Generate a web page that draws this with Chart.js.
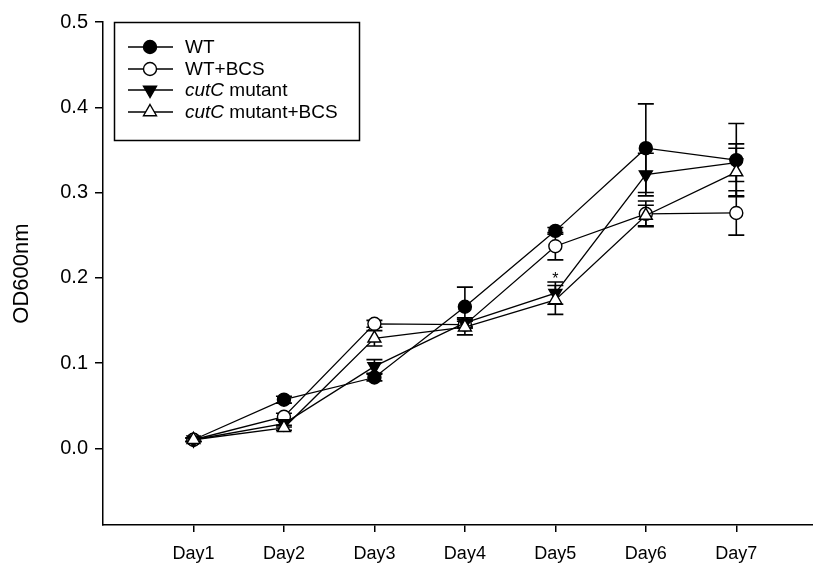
<!DOCTYPE html>
<html>
<head>
<meta charset="utf-8">
<script src="https://cdn.jsdelivr.net/npm/chart.js@4"></script>
<style>
  html, body { margin: 0; padding: 0; background: #fff; overflow: hidden; }
  #wrap { width: 823px; height: 565px; position: relative; }
</style>
</head>
<body>
<div id="wrap"><canvas id="grafico"></canvas></div>
<script>
// dados
const dias = ["Day1", "Day2", "Day3", "Day4", "Day5", "Day6", "Day7"];
const yTicks = [0.0, 0.1, 0.2, 0.3, 0.4, 0.5];

const wt       = [0.010, 0.057, 0.083, 0.166, 0.255, 0.352, 0.338];
const wtErr    = [0.002, 0.004, 0.004, 0.023, 0.004, 0.052, 0.043];
const wtBcs    = [0.010, 0.037, 0.146, 0.145, 0.237, 0.275, 0.276];
const wtBcsErr = [0.002, 0.004, 0.004, 0.004, 0.016, 0.015, 0.026];
const mut      = [0.010, 0.029, 0.096, 0.147, 0.182, 0.321, 0.335];
const mutErr   = [0.002, 0.004, 0.008, 0.006, 0.013, 0.025, 0.022];
const mutBcs   = [0.010, 0.024, 0.129, 0.142, 0.174, 0.273, 0.324];
const mutBcsErr= [0.002, 0.003, 0.009, 0.009, 0.017, 0.012, 0.028];

const asterisco = { dia: 5, valor: 0.198 };

const FONTE = "'Liberation Sans', Arial, sans-serif";

function pontos(valores) {
  return valores.map((v, i) => ({ x: i + 1, y: v }));
}

// ordem: a última série fica por cima (como no SigmaPlot)
function serie(label, valores, erros, estilo, preenchido, rotacao, raio, ordem) {
  return {
    label,
    data: pontos(valores),
    erros,
    order: ordem,
    borderColor: "#000",
    borderWidth: 1.3,
    pointStyle: estilo,
    pointRotation: rotacao,
    pointRadius: raio,
    pointHoverRadius: raio,
    pointBackgroundColor: preenchido ? "#000" : "#fff",
    pointBorderColor: "#000",
    pointBorderWidth: 1.4,
    tension: 0,
    fill: false,
  };
}

// barras de erro (desenhadas antes dos marcadores)
const barrasErro = {
  id: "barrasErro",
  beforeDatasetsDraw(chart) {
    const { ctx, scales: { x, y } } = chart;
    ctx.save();
    ctx.strokeStyle = "#000";
    ctx.lineWidth = 1.6;
    chart.data.datasets.forEach((ds) => {
      ds.data.forEach((p, i) => {
        const e = ds.erros[i];
        const px = x.getPixelForValue(p.x);
        const yTop = y.getPixelForValue(p.y + e);
        const yBot = y.getPixelForValue(p.y - e);
        ctx.beginPath();
        ctx.moveTo(px, yTop); ctx.lineTo(px, yBot);
        ctx.moveTo(px - 8, yTop); ctx.lineTo(px + 8, yTop);
        ctx.moveTo(px - 8, yBot); ctx.lineTo(px + 8, yBot);
        ctx.stroke();
      });
    });
    ctx.restore();
  },
  afterDatasetsDraw(chart) {
    const { ctx, scales: { x, y } } = chart;
    ctx.save();
    ctx.fillStyle = "#000";
    ctx.font = "16px " + FONTE;
    ctx.textAlign = "center";
    ctx.textBaseline = "middle";
    ctx.fillText("*", x.getPixelForValue(asterisco.dia), y.getPixelForValue(asterisco.valor));
    ctx.restore();
  },
};

// legenda desenhada à mão (itálico em cutC)
const legenda = {
  id: "legenda",
  afterDraw(chart) {
    const ctx = chart.ctx;
    ctx.save();
    ctx.strokeStyle = "#000";
    ctx.lineWidth = 1.5;
    ctx.strokeRect(114.5, 22.5, 245, 118);
    const linhas = [
      [{ t: "WT", it: false }],
      [{ t: "WT+BCS", it: false }],
      [{ t: "cutC", it: true }, { t: " mutant", it: false }],
      [{ t: "cutC", it: true }, { t: " mutant+BCS", it: false }],
    ];
    const ys = [47, 69, 90, 112];
    chart.data.datasets.forEach((ds, i) => {
      const yy = ys[i];
      ctx.strokeStyle = "#000";
      ctx.lineWidth = 1.3;
      ctx.beginPath();
      ctx.moveTo(128, yy); ctx.lineTo(173, yy);
      ctx.stroke();
      ctx.fillStyle = ds.pointBackgroundColor;
      ctx.lineWidth = ds.pointBorderWidth;
      Chart.helpers.drawPoint(ctx, {
        pointStyle: ds.pointStyle,
        rotation: ds.pointRotation,
        radius: ds.pointRadius,
        borderWidth: ds.pointBorderWidth,
      }, 150, yy);
      ctx.fillStyle = "#000";
      ctx.textBaseline = "middle";
      let xx = 185;
      linhas[i].forEach((parte) => {
        ctx.font = (parte.it ? "italic " : "") + "19px " + FONTE;
        ctx.fillText(parte.t, xx, yy + 1);
        xx += ctx.measureText(parte.t).width;
      });
    });
    ctx.restore();
  },
};

const ctx = document.getElementById("grafico");
new Chart(ctx, {
  type: "line",
  data: {
    datasets: [
      serie("WT", wt, wtErr, "circle", true, 0, 6.5, 4),
      serie("WT+BCS", wtBcs, wtBcsErr, "circle", false, 0, 6.5, 3),
      serie("cutC mutant", mut, mutErr, "triangle", true, 180, 7.5, 2),
      serie("cutC mutant+BCS", mutBcs, mutBcsErr, "triangle", false, 0, 7.5, 1),
    ],
  },
  options: {
    responsive: true,
    maintainAspectRatio: false,
    animation: false,
    layout: { padding: { top: 22, right: 0, left: 0, bottom: 0 } },
    plugins: {
      legend: { display: false },
      tooltip: { enabled: false },
    },
    scales: {
      x: {
        type: "linear",
        min: 0,
        max: 7.86,
        afterBuildTicks: (s) => { s.ticks = dias.map((d, i) => ({ value: i + 1 })); },
        afterFit: (s) => { s.height = 40; },
        ticks: {
          autoSkip: false,
          maxRotation: 0,
          color: "#000",
          font: { family: FONTE, size: 18 },
          padding: 11,
          callback: (v) => dias[Math.round(v) - 1],
        },
        grid: { drawOnChartArea: false, drawTicks: true, tickLength: 7, color: "#000", lineWidth: 1.5 },
        border: { color: "#000", width: 1.5 },
      },
      y: {
        min: -0.09,
        max: 0.5,
        afterBuildTicks: (s) => { s.ticks = yTicks.map((v) => ({ value: v })); },
        afterFit: (s) => { s.width = 103; },
        ticks: {
          color: "#000",
          font: { family: FONTE, size: 20 },
          padding: 7,
          callback: (v) => v.toFixed(1),
        },
        grid: { drawOnChartArea: false, drawTicks: true, tickLength: 8, color: "#000", lineWidth: 1.5 },
        border: { color: "#000", width: 1.5 },
        title: {
          display: true,
          text: "OD600nm",
          color: "#000",
          font: { family: FONTE, size: 22 },
          padding: { top: 9, bottom: 0 },
        },
      },
    },
  },
  plugins: [barrasErro, legenda],
});
</script>
</body>
</html>
